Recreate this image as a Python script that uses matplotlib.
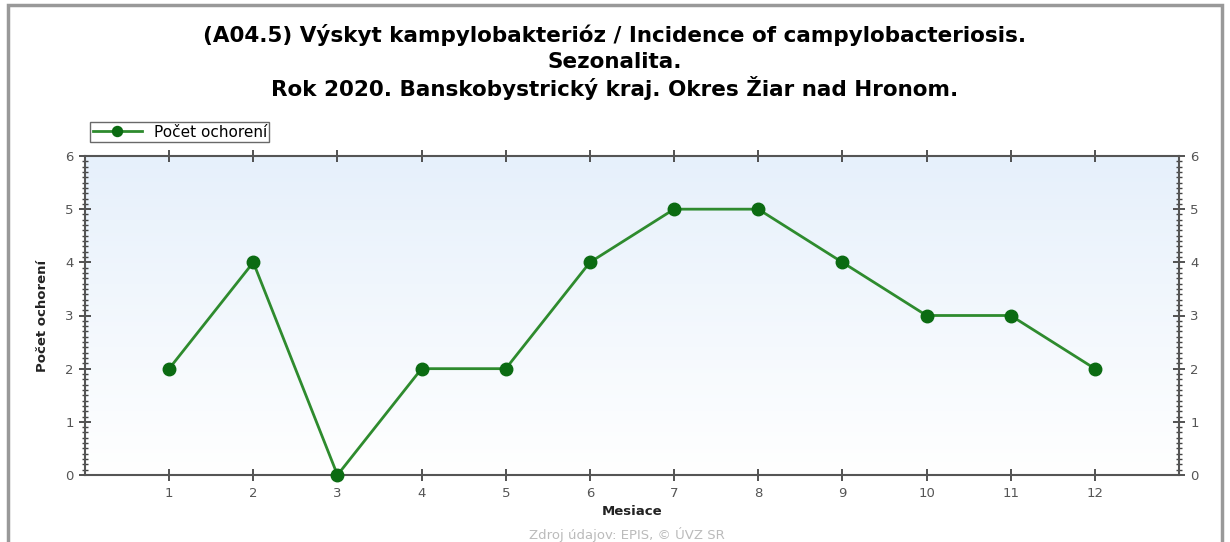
import numpy as np
import matplotlib.pyplot as plt
from matplotlib.ticker import MultipleLocator
from matplotlib.patches import Rectangle
from matplotlib.colors import LinearSegmentedColormap

plt.rcParams['font.family'] = ['DejaVu Sans']

# Údaje
mesiace = [1, 2, 3, 4, 5, 6, 7, 8, 9, 10, 11, 12]
pocet = [2, 4, 0, 2, 2, 4, 5, 5, 4, 3, 3, 2]

nazov = ["(A04.5) Výskyt kampylobakterióz / Incidence of campylobacteriosis.",
         "Sezonalita.",
         "Rok 2020. Banskobystrický kraj. Okres Žiar nad Hronom."]

fig = plt.figure(figsize=(12.3, 5.42), dpi=100)
ax = fig.add_axes([85 / 1230, 67 / 542, 1094 / 1230, 319 / 542])

# gradient pozadia
grad = np.linspace(0, 1, 256).reshape(-1, 1)
cm = LinearSegmentedColormap.from_list("bg", ["#ffffff", "#e6f0fb"])
ax.imshow(grad, aspect="auto", cmap=cm, extent=[0, 13, 0, 6], origin="lower", zorder=0)

ax.plot(mesiace, pocet, color="#2e8b2e", lw=2, marker="o", ms=9,
        markerfacecolor="#0b6b12", markeredgecolor="#0b6b12",
        label="Počet ochorení", zorder=3, clip_on=False)

ax.set_xlim(0, 13)
ax.set_ylim(0, 6)
ax.set_xticks(mesiace)
ax.set_yticks(range(0, 7))
ax.yaxis.set_minor_locator(MultipleLocator(0.1))

for s in ["left", "right", "top", "bottom"]:
    ax.spines[s].set_color("#555555")
    ax.spines[s].set_linewidth(1.5)

ax.tick_params(axis="both", which="major", direction="inout", length=9,
               width=1.3, color="#444444", labelcolor="#555555", labelsize=9.5)
ax.tick_params(axis="y", which="minor", direction="inout", length=5,
               width=1, color="#444444")
ax.tick_params(top=True, right=True, labelright=True)
ax.tick_params(axis="y", which="minor", right=True)
ax.tick_params(axis="x", which="major", top=True, pad=4)

ax.set_xlabel("Mesiace", fontweight="bold", fontsize=9.5, labelpad=4, color="#222222")
ax.set_ylabel("Počet ochorení", fontweight="bold", fontsize=9.5, labelpad=12, color="#222222")

# nadpis - tri riadky
for txt, ypix in zip(nazov, [35, 62, 88]):
    fig.text(0.5, 1 - ypix / 542, txt, fontsize=15.5, fontweight="bold",
             ha="center", va="center")

ax.legend(loc="lower left", bbox_to_anchor=(-0.002, 1.02), frameon=True,
          fancybox=False, edgecolor="#444444", fontsize=11, borderpad=0.15,
          handlelength=3.2, markerscale=0.8)

fig.text(0.51, 1 - 535 / 542, "Zdroj údajov: EPIS, © ÚVZ SR", color="#bbbbbb",
         fontsize=9.5, ha="center", va="center")

# rámček okolo grafu
fig.patches.append(Rectangle((8 / 1230, -0.05), 1214 / 1230, 1.04,
                             transform=fig.transFigure, fill=False,
                             edgecolor="#999999", lw=2.5))

plt.savefig("out.png", dpi=100)
